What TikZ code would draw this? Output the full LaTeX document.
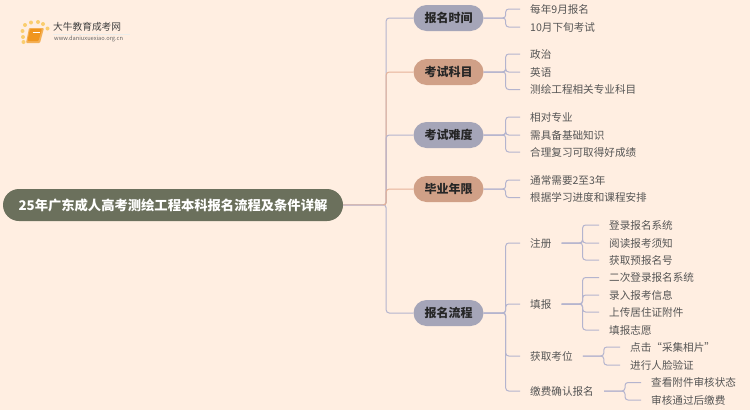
\documentclass[tikz,border=0pt]{standalone}
\usepackage{fontspec}
\setmainfont{Noto Sans CJK SC}
\usetikzlibrary{shapes.misc}
\definecolor{BackClr}{RGB}{255,238,225}
\definecolor{RootClr}{RGB}{107,112,92}
\definecolor{GrayClr}{RGB}{165,165,184}
\definecolor{PeachClr}{RGB}{208,160,135}
\definecolor{LineClr}{RGB}{180,180,206}
\definecolor{OrangeLineClr}{RGB}{230,178,152}
\definecolor{StubClr}{RGB}{205,190,200}
\definecolor{TextClr}{RGB}{85,85,85}
\definecolor{BookClr}{RGB}{240,150,30}
\definecolor{DotClr}{RGB}{250,205,110}
\tikzset{
  RootNode/.style={rounded rectangle,inner sep=0pt,fill=RootClr,text=white,minimum width=340pt,minimum height=32pt,font=\fontsize{13.3}{15}\selectfont\bfseries},
  Pill/.style={rounded rectangle,inner sep=0pt,minimum width=70pt,minimum height=26pt,text=black!85,font=\fontsize{12}{14}\selectfont\bfseries},
  Leaf/.style={anchor=west,inner xsep=10pt,inner ysep=2pt,text=TextClr,font=\fontsize{10.6}{12}\selectfont},
  Link/.style={line width=1pt,color=LineClr,rounded corners=3pt},
}
\newcommand{\Branch}[4][LineClr]{\draw[Link,color=#1] (#2.east) -- ++(#4,0) |- (#3.west);}
\begin{document}
\begin{tikzpicture}[x=1pt,y=-1pt]
\fill[BackClr] (0,0) rectangle (750,410);
\useasboundingbox (0,0) rectangle (750,410);

\foreach \dx/\dy in {25/25,31/22.5,38/22,43/24,47.5/28.5,22.5/31,23/37,23.5/42}
  \fill[DotClr] (\dx,\dy) circle (2pt);
\fill[BookClr!75!white,rounded corners=1pt] (29,28) -- (44,28) -- (40,43) -- (26,43) -- cycle;
\fill[BookClr,rounded corners=1pt] (30,29) -- (42,29) -- (38.5,41) -- (27.5,41) -- cycle;
\draw[white,line width=.5pt] (32.5,32.5) -- (39.5,32.5);
\fill[RootClr!12] (53,33.5) rectangle (130,34);
\node[anchor=west,inner sep=0pt,text=black!75,font=\fontsize{9.7}{11}\selectfont] (LogoName) at (53,27) {大牛教育成考网};
\node[anchor=west,inner sep=0pt,text=black!60,font=\fontsize{5.7}{7}\selectfont] (LogoUrl) at (54,39) {www.daniuxuexiao.org.cn};

\node[RootNode] (Root) at (173,205) {25年广东成人高考测绘工程本科报名流程及条件详解};
\coordinate (Trunk) at (386,205);

\node[Pill,fill=GrayClr] (Time) at (448.5,18) {报名时间};
\node[Pill,fill=PeachClr] (Subject) at (448.5,72) {考试科目};
\node[Pill,fill=GrayClr] (Hard) at (448.5,135) {考试难度};
\node[Pill,fill=PeachClr] (Years) at (448.5,189) {毕业年限};
\node[Pill,fill=GrayClr] (Flow) at (448.5,313) {报名流程};

\node[Leaf] (TimeA) at (520,9) {每年9月报名};
\node[Leaf] (TimeB) at (520,27) {10月下旬考试};
\node[Leaf] (SubjectA) at (520,54) {政治};
\node[Leaf] (SubjectB) at (520,72) {英语};
\node[Leaf] (SubjectC) at (520,89.5) {测绘工程相关专业科目};
\node[Leaf] (HardA) at (520,117) {相对专业};
\node[Leaf] (HardB) at (520,135) {需具备基础知识};
\node[Leaf] (HardC) at (520,152) {合理复习可取得好成绩};
\node[Leaf] (YearsA) at (520,180) {通常需要2至3年};
\node[Leaf] (YearsB) at (520,197.5) {根据学习进度和课程安排};

\node[Leaf] (Reg) at (520,243) {注册};
\node[Leaf] (Fill) at (520,304) {填报};
\node[Leaf] (Seat) at (520,356) {获取考位};
\node[Leaf] (Pay) at (520,391) {缴费确认报名};

\node[Leaf] (RegA) at (599,225) {登录报名系统};
\node[Leaf] (RegB) at (599,243) {阅读报考须知};
\node[Leaf] (RegC) at (599,260) {获取预报名号};
\node[Leaf] (FillA) at (599,277.5) {二次登录报名系统};
\node[Leaf] (FillB) at (599,295) {录入报考信息};
\node[Leaf] (FillC) at (599,312) {上传居住证附件};
\node[Leaf] (FillD) at (599,330) {填报志愿};
\node[Leaf] (SeatA) at (620,347) {点击“采集相片”};
\node[Leaf] (SeatB) at (620,365) {进行人脸验证};
\node[Leaf] (PayA) at (641,382.5) {查看附件审核状态};
\node[Leaf] (PayB) at (641,400) {审核通过后缴费};

\Branch{Root}{Flow}{43}
\Branch{Root}{Time}{43}
\Branch[OrangeLineClr]{Root}{Subject}{43}
\Branch{Root}{Hard}{43}
\Branch[OrangeLineClr]{Root}{Years}{43}
\draw[Link,color=StubClr] (Root.east) -- (Trunk);

\Branch{Time}{TimeA}{22}
\Branch{Time}{TimeB}{22}
\Branch{Subject}{SubjectA}{22}
\Branch{Subject}{SubjectB}{22}
\Branch{Subject}{SubjectC}{22}
\Branch{Hard}{HardA}{22}
\Branch{Hard}{HardB}{22}
\Branch{Hard}{HardC}{22}
\Branch{Years}{YearsA}{22}
\Branch{Years}{YearsB}{22}

\Branch{Flow}{Reg}{22}
\Branch{Flow}{Fill}{22}
\Branch{Flow}{Seat}{22}
\Branch{Flow}{Pay}{22}

\Branch{Reg}{RegA}{21}
\Branch{Reg}{RegB}{21}
\Branch{Reg}{RegC}{21}
\Branch{Fill}{FillA}{21}
\Branch{Fill}{FillB}{21}
\Branch{Fill}{FillC}{21}
\Branch{Fill}{FillD}{21}
\Branch{Seat}{SeatA}{21}
\Branch{Seat}{SeatB}{21}
\Branch{Pay}{PayA}{21}
\Branch{Pay}{PayB}{21}

\end{tikzpicture}
\end{document}
